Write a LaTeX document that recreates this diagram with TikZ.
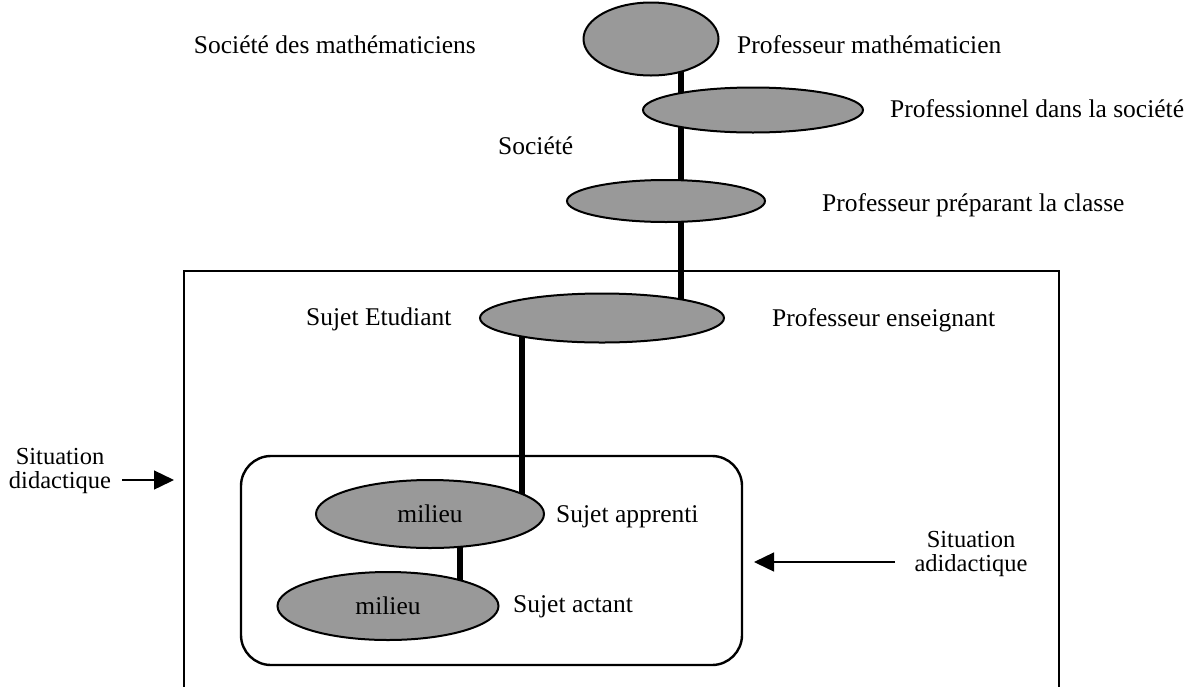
\documentclass[tikz,border=0pt]{standalone}
\usepackage{fontspec}
\setmainfont{Liberation Serif}
\usetikzlibrary{shapes.geometric,arrows.meta,backgrounds}
\tikzset{
  ell/.style={ellipse, draw=black, line width=2pt, fill=black!40, inner sep=0pt},
  conn/.style={line width=6pt, black},
  lbl/.style={font=\fontsize{25.5}{29}\selectfont, inner sep=0pt},
  lblL/.style={lbl, anchor=west},
  side/.style={font=\fontsize{24.5}{24}\selectfont, inner sep=0pt, align=center},
  frame/.style={line width=1.2pt},
  inner/.style={line width=2.4pt, rounded corners=30pt},
  arr/.style={line width=1.4pt, -{Triangle[length=20pt,width=19pt]}}
}
\begin{document}
\begin{tikzpicture}[x=1pt,y=-1pt]
\useasboundingbox (0,0) rectangle (1193,686);
\clip (0,0) rectangle (1193,686);
% frames
\draw[frame] (184,708) -- (184,271) -- (1059,271) -- (1059,708);
\draw[inner] (241,456) rectangle (742,665);
% ellipses
\node[ell, minimum width=135pt, minimum height=73pt] (E1) at (651,39) {};
\node[ell, minimum width=220pt, minimum height=45pt] (E2) at (753,110) {};
\node[ell, minimum width=198pt, minimum height=42pt] (E3) at (666,201) {};
\node[ell, minimum width=244pt, minimum height=49pt] (E4) at (602,318) {};
\node[ell, minimum width=228pt, minimum height=68pt] (E5) at (430,514) {};
\node[ell, minimum width=221pt, minimum height=68pt] (E6) at (388,606) {};
\node[lbl] (m1) at (E5.center) {milieu};
\node[lbl] (m2) at (E6.center) {milieu};
% connectors
\coordinate (xa) at (681,0);
\coordinate (xb) at (522,0);
\coordinate (xc) at (460,0);
\begin{scope}[on background layer]
\draw[conn] (xa |- E1.center) -- (xa |- E2.center);
\draw[conn] (xa |- E2.center) -- (xa |- E3.center);
\draw[conn] (xa |- E3.center) -- (xa |- E4.center);
\draw[conn] (xb |- E4.center) -- (xb |- E5.center);
\draw[conn] (xc |- E5.center) -- (xc |- E6.center);
\end{scope}
% labels
\node[lbl, anchor=east] (t1) at (476,45) {Société des mathématiciens};
\node[lblL] (t2) at (737,45) {Professeur mathématicien};
\node[lblL] (t3) at (890,109) {Professionnel dans la société};
\node[lblL] (t4) at (498,146) {Société};
\node[lblL] (t5) at (822,205) {Professeur préparant la classe};
\node[lblL] (t6) at (306,319) {Sujet Etudiant};
\node[lblL] (t7) at (772,320) {Professeur enseignant};
\node[lblL] (t8) at (556,517) {Sujet apprenti};
\node[lblL] (t9) at (513,607) {Sujet actant};
\node[side] (sd) at (60,471) {Situation\\didactique};
\node[side] (sa) at (971,554) {Situation\\adidactique};
\coordinate (sdStart) at (122,480);
\coordinate (sdEnd) at (174,480);
\coordinate (saStart) at (895,562);
\coordinate (saEnd) at (754,562);
\draw[arr] (sdStart) -- (sdEnd);
\draw[arr] (saStart) -- (saEnd);
\end{tikzpicture}
\end{document}
